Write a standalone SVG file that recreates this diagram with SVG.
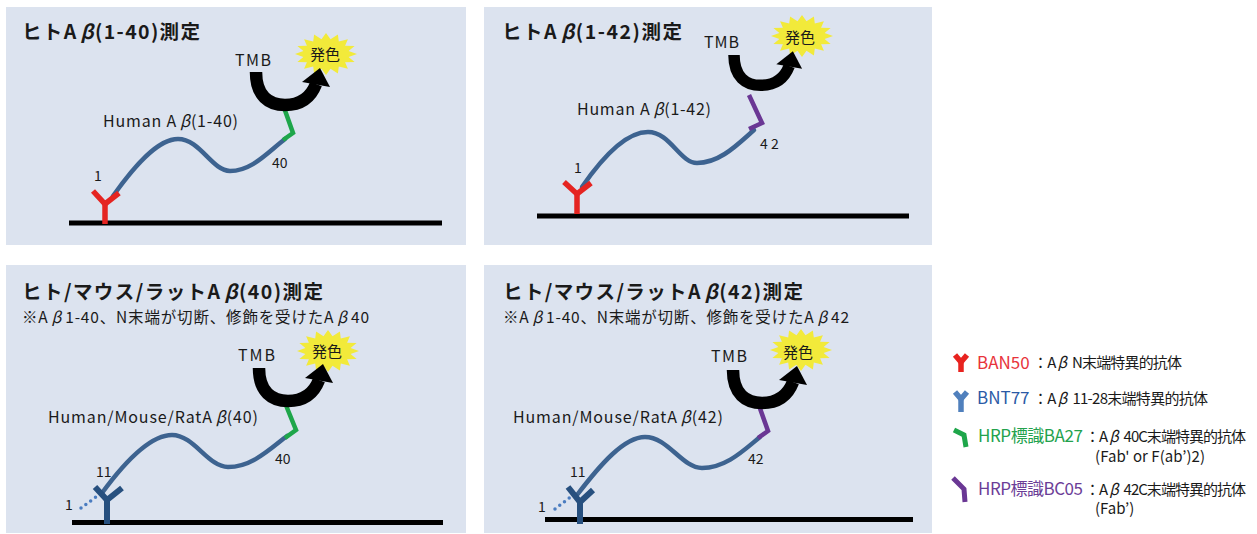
<svg xmlns="http://www.w3.org/2000/svg" width="1257" height="534" viewBox="0 0 1257 534">
  <defs>
    <style>
      text { font-family: "Noto Sans CJK JP", "Noto Sans", sans-serif; fill: #1a1a1a; }
      .panel { fill: #dce3ef; }
      .title { font-size: 19.5px; font-weight: bold; }
      .sub { font-size: 15.5px; }
      .lbl { font-size: 16px; }
      .num { font-size: 14px; }
      .tmb { font-size: 16px; }
      .hue { font-size: 15px; }
      .bar { fill: #000; }
      .peptide { fill: none; stroke: #3d6390; stroke-width: 4.5; stroke-linecap: round; }
      .dots { fill: none; stroke: #4a7cc0; stroke-width: 3.5; stroke-linecap: round; stroke-dasharray: 0 6; }
      .ban50 { fill: none; stroke: #e52421; stroke-width: 5.5; }
      .bnt77 { fill: none; stroke: #27507f; stroke-width: 6; }
      .ba27 { fill: none; stroke: #1ea64a; stroke-width: 4.5; stroke-linejoin: miter; }
      .bc05 { fill: none; stroke: #6a3794; stroke-width: 4.5; stroke-linejoin: miter; }
      .burst { fill: #f2ea3a; }
      .legname { font-size: 17px; }
      .legdesc { font-size: 15px; }
      .beta { font-style: italic; }
    </style>
    <!-- yellow colour-development burst, centred on 0,0 -->
    <polygon id="burst" class="burst" points="31,0 22.6,2.9 28.6,8 19.1,8.3 21.9,14.8 12.8,12.5 11.9,19.4 4.5,14.7 0,21 -4.5,14.7 -11.9,19.4 -12.8,12.5 -21.9,14.8 -19.1,8.3 -28.6,8 -22.6,2.9 -31,0 -22.6,-2.9 -28.6,-8 -19.1,-8.3 -21.9,-14.8 -12.8,-12.5 -11.9,-19.4 -4.5,-14.7 0,-21 4.5,-14.7 11.9,-19.4 12.8,-12.5 21.9,-14.8 19.1,-8.3 28.6,-8 22.6,-2.9"/>
    <!-- curved TMB reaction arrow, origin at the top of its tail -->
    <g id="tmbArrow">
      <path d="M0,0 C0,24 13,33 29,33 C45,33 55,25 60,12" fill="none" stroke="#000" stroke-width="12.5"/>
      <polygon points="46,10 64,-4 74,15" fill="#000"/>
    </g>
  </defs>

  <!-- Human Aβ(1-40) assay -->
  <g id="panel-human-40">
    <rect class="panel" x="6" y="7" width="460" height="238"/>
    <text class="title" x="22" y="39" textLength="178">ヒトA<tspan class="beta" dx="3">β</tspan>(1-40)測定</text>
    <rect class="bar" x="69" y="220.5" width="373" height="5"/>
    <path class="peptide" d="M113,196 C135,165 158,139 178,139 C200,139 212,171 230,171 C252,171 268,152 285,139"/>
    <polyline class="ban50" points="93,191 105,204 119,193"/>
    <line class="ban50" x1="105" y1="203" x2="105" y2="224"/>
    <polyline class="ba27" points="282,102 293,133 283,140"/>
    <use href="#burst" x="326" y="54"/>
    <text class="hue" x="310" y="60">発色</text>
    <text class="tmb" x="235" y="66" textLength="36">TMB</text>
    <text class="lbl" x="103" y="127" textLength="135">Human A<tspan class="beta" dx="3">β</tspan>(1-40)</text>
    <text class="num" x="94" y="181">1</text>
    <text class="num" x="272" y="168">40</text>
  </g>

  <!-- Human Aβ(1-42) assay -->
  <g id="panel-human-42">
    <rect class="panel" x="484" y="7" width="448" height="238"/>
    <text class="title" x="502" y="39" textLength="180">ヒトA<tspan class="beta" dx="3">β</tspan>(1-42)測定</text>
    <rect class="bar" x="537" y="213.5" width="372" height="5"/>
    <path class="peptide" d="M582,187 C602,158 626,132 648,132 C670,132 680,163 697,163 C720,163 738,144 754,130"/>
    <polyline class="ban50" points="564,182 577,194 591,183"/>
    <line class="ban50" x1="577" y1="193" x2="577" y2="214"/>
    <polyline class="bc05" points="749,95 762,123 749,129"/>
    <use href="#burst" x="802" y="36"/>
    <text class="hue" x="785" y="43">発色</text>
    <text class="tmb" x="704" y="48" textLength="35">TMB</text>
    <text class="lbl" x="577" y="115" textLength="134">Human A<tspan class="beta" dx="3">β</tspan>(1-42)</text>
    <text class="num" x="574" y="173">1</text>
    <text class="num" x="760" y="149">4 2</text>
  </g>

  <!-- Human/Mouse/Rat Aβ(40) assay -->
  <g id="panel-hmr-40">
    <rect class="panel" x="6" y="265" width="460" height="268"/>
    <text class="title" x="22" y="299" textLength="301">ヒト/マウス/ラットA<tspan class="beta" dx="3">β</tspan>(40)測定</text>
    <text class="sub" x="22" y="323" textLength="347">※A<tspan class="beta" dx="3">β</tspan><tspan dx="3">1-40、N末端が切断、修飾を受けたA</tspan><tspan class="beta" dx="3">β</tspan><tspan dx="3">40</tspan></text>
    <rect class="bar" x="72" y="520" width="371" height="5"/>
    <path class="dots" d="M81,508 L100,494"/>
    <path class="peptide" d="M102,493 C124,463 150,435 172,435 C194,435 208,467 228,467 C252,467 270,449 287,436"/>
    <polyline class="bnt77" points="95,487 107,500 122,488"/>
    <line class="bnt77" x1="107" y1="499" x2="107" y2="524"/>
    <polyline class="ba27" points="283,398 296,430 285,438"/>
    <use href="#burst" x="328" y="351"/>
    <text class="hue" x="312" y="357">発色</text>
    <text class="tmb" x="238" y="361" textLength="37">TMB</text>
    <text class="lbl" x="48" y="423" textLength="210">Human/Mouse/RatA<tspan class="beta" dx="3">β</tspan>(40)</text>
    <text class="num" x="96" y="477">11</text>
    <text class="num" x="65" y="510">1</text>
    <text class="num" x="275" y="464">40</text>
  </g>

  <!-- Human/Mouse/Rat Aβ(42) assay -->
  <g id="panel-hmr-42">
    <rect class="panel" x="484" y="265" width="448" height="268"/>
    <text class="title" x="503" y="299" textLength="300">ヒト/マウス/ラットA<tspan class="beta" dx="3">β</tspan>(42)測定</text>
    <text class="sub" x="503" y="323" textLength="346">※A<tspan class="beta" dx="3">β</tspan><tspan dx="3">1-40、N末端が切断、修飾を受けたA</tspan><tspan class="beta" dx="3">β</tspan><tspan dx="3">42</tspan></text>
    <rect class="bar" x="545" y="517" width="368" height="5"/>
    <path class="dots" d="M555,509 L573,495"/>
    <path class="peptide" d="M577,495 C600,465 624,437 645,437 C668,437 682,468 702,468 C726,468 744,450 760,437"/>
    <polyline class="bnt77" points="568,487 580,502 593,490"/>
    <line class="bnt77" x1="580" y1="501" x2="580" y2="524"/>
    <polyline class="bc05" points="757,400 768,431 758,438"/>
    <use href="#burst" x="801" y="350"/>
    <text class="hue" x="783" y="358">発色</text>
    <text class="tmb" x="711" y="362" textLength="36">TMB</text>
    <text class="lbl" x="513" y="423" textLength="210">Human/Mouse/RatA<tspan class="beta" dx="3">β</tspan>(42)</text>
    <text class="num" x="570" y="477">11</text>
    <text class="num" x="538" y="512">1</text>
    <text class="num" x="748" y="464">42</text>
  </g>

  <!-- TMB reaction arrows -->
  <g id="connectors">
    <use href="#tmbArrow" transform="translate(256,72)"/>
    <use href="#tmbArrow" transform="translate(734,55) scale(0.92)"/>
    <use href="#tmbArrow" transform="translate(259,368)"/>
    <use href="#tmbArrow" transform="translate(733,370)"/>
  </g>

  <!-- antibody legend -->
  <g id="legend">
    <g id="legend-ban50">
      <polyline points="955,355 961,362 967,355" fill="none" stroke="#e8231f" stroke-width="5.5"/>
      <line x1="961" y1="361" x2="961" y2="372" stroke="#e8231f" stroke-width="5.5"/>
      <text class="legname" x="977" y="369" style="fill:#e8333a">BAN50</text>
      <text class="legdesc" x="1033" y="368" textLength="149">：A<tspan class="beta" dx="2">β</tspan><tspan dx="6">N末端特異的抗体</tspan></text>
    </g>
    <g id="legend-bnt77">
      <polyline points="955,392 961,399 967,392" fill="none" stroke="#5080bd" stroke-width="5.5"/>
      <line x1="961" y1="398" x2="961" y2="412" stroke="#5080bd" stroke-width="5.5"/>
      <text class="legname" x="977" y="404" style="fill:#2b5aa6">BNT77</text>
      <text class="legdesc" x="1033" y="404" textLength="175">：A<tspan class="beta" dx="2">β</tspan><tspan dx="6">11-28末端特異的抗体</tspan></text>
    </g>
    <g id="legend-ba27">
      <polyline points="954,430 964,435 966,447" fill="none" stroke="#1ea64a" stroke-width="5"/>
      <text class="legname" x="978" y="442" textLength="105" style="fill:#23a24d">HRP標識BA27</text>
      <text class="legdesc" x="1085" y="442" textLength="161">：A<tspan class="beta" dx="2">β</tspan><tspan dx="6">40C末端特異的抗体</tspan></text>
      <text class="legdesc" x="1095" y="462" textLength="110">(Fab' or F(ab’)2)</text>
    </g>
    <g id="legend-bc05">
      <polyline points="953,478 964,489 965,502" fill="none" stroke="#6a3794" stroke-width="5"/>
      <text class="legname" x="978" y="495" textLength="105" style="fill:#6b3d97">HRP標識BC05</text>
      <text class="legdesc" x="1085" y="495" textLength="161">：A<tspan class="beta" dx="2">β</tspan><tspan dx="6">42C末端特異的抗体</tspan></text>
      <text class="legdesc" x="1095" y="514">(Fab’)</text>
    </g>
  </g>
</svg>
